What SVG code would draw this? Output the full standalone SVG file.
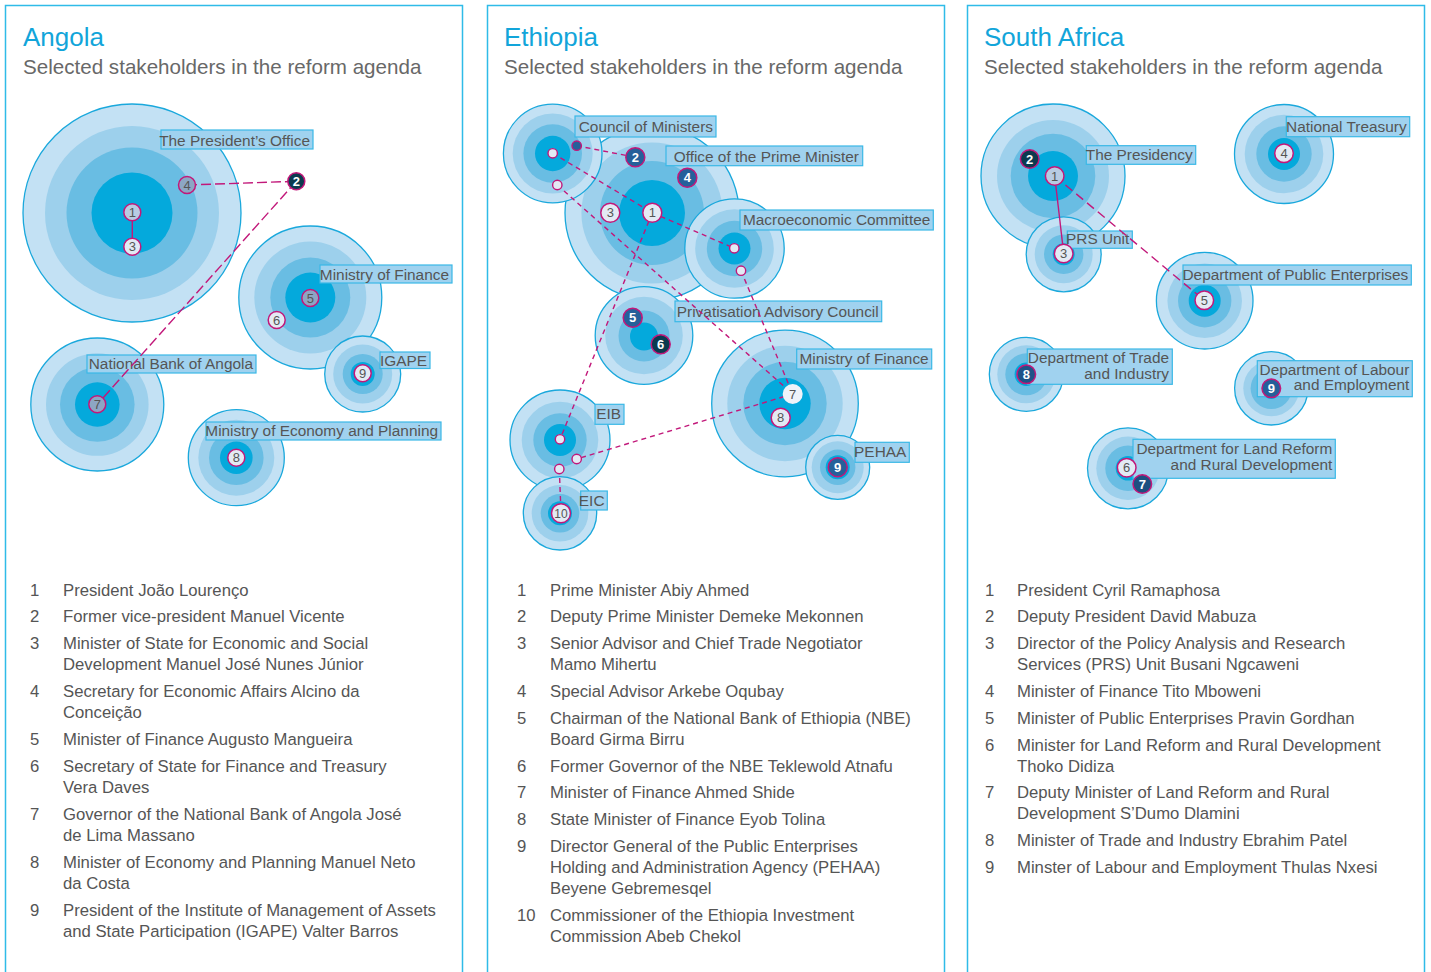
<svg xmlns="http://www.w3.org/2000/svg" width="1431" height="972" viewBox="0 0 1431 972">
<style>
text{font-family:"Liberation Sans",Arial,Helvetica,sans-serif}
.panel{fill:none;stroke:#2fbbe8;stroke-width:1.5}
.title{font-size:26px;fill:#12a5da}
.sub{font-size:20.6px;fill:#686868}
.r1{fill:#c3e1f4;stroke:#1aa8dc;stroke-width:1.3}
.r2{fill:#9dd0ec}
.r3{fill:#69bde3}
.r4{fill:#04a9dc}
.lb{fill:#a0d2ef;stroke:#3ab8e6;stroke-width:1.2}
.lt{font-size:15.4px;fill:#555;text-anchor:end}
.cn{stroke:#c2187a;stroke-width:1.4;fill:none}
.da{stroke-dasharray:10 4}
.de{stroke-dasharray:5 4}
.ds{stroke-dasharray:9 5}
.m{stroke:#c2187a;stroke-width:1.5}
.ml{fill:#e3eaf4}
.mg{fill:#b8cbe2}
.mm{fill:#8da6c4}
.mb{fill:#25609a}
.mn{fill:#0b3a4f}
.mw{fill:#eef3f9}
.dot{fill:#e3eaf4;stroke:#c2187a;stroke-width:1.4}
.mt{font-size:13px;fill:#555;text-anchor:middle}
.mtw{font-size:13px;fill:#fff;font-weight:bold;text-anchor:middle}
.li{font-size:16.7px;fill:#555}
</style>

<!-- panels -->
<g id="panels">
<path class="panel" d="M5.5,972 V5.5 H462.5 V972"/>
<path class="panel" d="M487.5,972 V5.5 H944.5 V972"/>
<path class="panel" d="M967.5,972 V5.5 H1424.5 V972"/>
</g>

<g id="titles">
<text class="title" x="23" y="46">Angola</text>
<text class="sub" x="23" y="74">Selected stakeholders in the reform agenda</text>
<text class="title" x="504" y="46">Ethiopia</text>
<text class="sub" x="504" y="74">Selected stakeholders in the reform agenda</text>
<text class="title" x="984" y="46">South Africa</text>
<text class="sub" x="984" y="74">Selected stakeholders in the reform agenda</text>
</g>

<!-- ===== Angola organisations ===== -->
<g id="ang-presidents-office">
<circle class="r1" cx="132" cy="213" r="109"/>
<circle class="r2" cx="132" cy="213" r="87"/>
<circle class="r3" cx="132" cy="213" r="65.5"/>
<circle class="r4" cx="132" cy="213" r="40.5"/>
<rect class="lb" x="161" y="130" width="152" height="19"/>
<text class="lt" x="310" y="145.5">The President’s Office</text>
</g>
<g id="ang-ministry-finance">
<circle class="r1" cx="310.3" cy="297.5" r="71.5"/>
<circle class="r2" cx="310.3" cy="297.5" r="56"/>
<circle class="r3" cx="310.3" cy="297.5" r="40"/>
<circle class="r4" cx="310.3" cy="297.5" r="25"/>
<rect class="lb" x="320" y="265" width="132" height="18"/>
<text class="lt" x="449" y="279.5">Ministry of Finance</text>
</g>
<g id="ang-igape">
<circle class="r1" cx="362.7" cy="374" r="38"/>
<circle class="r2" cx="362.7" cy="374" r="29.5"/>
<circle class="r3" cx="362.7" cy="374" r="20"/>
<circle class="r4" cx="362.7" cy="374" r="12"/>
<rect class="lb" x="380" y="352" width="50" height="16.5"/>
<text class="lt" x="427" y="366">IGAPE</text>
</g>
<g id="ang-national-bank">
<circle class="r1" cx="97.3" cy="404.5" r="66.5"/>
<circle class="r2" cx="97.3" cy="404.5" r="51.3"/>
<circle class="r3" cx="97.3" cy="404.5" r="37.3"/>
<circle class="r4" cx="97.3" cy="404.5" r="22.3"/>
<rect class="lb" x="87" y="355" width="169" height="18"/>
<text class="lt" x="253" y="369">National Bank of Angola</text>
</g>
<g id="ang-economy-planning">
<circle class="r1" cx="236.3" cy="457.7" r="48"/>
<circle class="r2" cx="236.3" cy="457.7" r="38"/>
<circle class="r3" cx="236.3" cy="457.7" r="27.3"/>
<circle class="r4" cx="236.3" cy="457.7" r="16.3"/>
<rect class="lb" x="206" y="422" width="235" height="18"/>
<text class="lt" x="438" y="436">Ministry of Economy and Planning</text>
</g>

<!-- ===== Ethiopia organisations ===== -->
<g id="eth-office-pm">
<circle class="r1" cx="652" cy="213" r="87"/>
<circle class="r2" cx="652" cy="213" r="70.6"/>
<circle class="r3" cx="652" cy="213" r="52"/>
<circle class="r4" cx="652" cy="213" r="33"/>
<rect class="lb" x="666" y="146" width="196.7" height="19.7"/>
<text class="lt" x="859" y="161.5">Office of the Prime Minister</text>
</g>
<g id="eth-council-ministers">
<circle class="r1" cx="552.7" cy="153.5" r="49.3"/>
<circle class="r2" cx="552.7" cy="153.5" r="40"/>
<circle class="r3" cx="552.7" cy="153.5" r="29.3"/>
<circle class="r4" cx="552.7" cy="153.5" r="17.7"/>
<rect class="lb" x="575" y="116" width="141" height="21"/>
<text class="lt" x="713" y="131.7">Council of Ministers</text>
</g>
<g id="eth-macro-committee">
<circle class="r1" cx="734.5" cy="248.5" r="49.7"/>
<circle class="r2" cx="734.5" cy="248.5" r="39.3"/>
<circle class="r3" cx="734.5" cy="248.5" r="27.7"/>
<circle class="r4" cx="734.5" cy="248.5" r="16"/>
<rect class="lb" x="740" y="210" width="193.3" height="20"/>
<text class="lt" x="930.3" y="225">Macroeconomic Committee</text>
</g>
<g id="eth-privatisation-council">
<circle class="r1" cx="644" cy="335.5" r="48.8"/>
<circle class="r2" cx="644" cy="335.5" r="38.8"/>
<circle class="r3" cx="644" cy="336" r="25.5"/>
<circle class="r4" cx="644" cy="336.5" r="14"/>
<rect class="lb" x="675" y="301" width="206.7" height="20.7"/>
<text class="lt" x="878.7" y="316.5">Privatisation Advisory Council</text>
</g>
<g id="eth-ministry-finance">
<circle class="r1" cx="785" cy="403.5" r="73.3"/>
<circle class="r2" cx="785" cy="403.5" r="57.7"/>
<circle class="r3" cx="785" cy="403.5" r="41.7"/>
<circle class="r4" cx="785" cy="403.5" r="25.7"/>
<rect class="lb" x="796.7" y="349" width="135" height="20"/>
<text class="lt" x="928.7" y="363.5">Ministry of Finance</text>
</g>
<g id="eth-pehaa">
<circle class="r1" cx="837.7" cy="467.3" r="32"/>
<circle class="r2" cx="837.7" cy="467.3" r="26"/>
<circle class="r3" cx="837.7" cy="467.3" r="17.7"/>
<circle class="r4" cx="837.7" cy="467.3" r="12"/>
<rect class="lb" x="855" y="442.3" width="54.3" height="20"/>
<text class="lt" x="906.3" y="457.3">PEHAA</text>
</g>
<g id="eth-eib">
<circle class="r1" cx="560" cy="440" r="50"/>
<circle class="r2" cx="560" cy="440" r="38.3"/>
<circle class="r3" cx="560" cy="440" r="26.7"/>
<circle class="r4" cx="560" cy="440" r="16"/>
<rect class="lb" x="595" y="404.3" width="29" height="20"/>
<text class="lt" x="621" y="419.3">EIB</text>
</g>
<g id="eth-eic">
<circle class="r1" cx="560" cy="513.3" r="36.7"/>
<circle class="r2" cx="560" cy="513.3" r="28.3"/>
<circle class="r3" cx="560" cy="513.3" r="19.3"/>
<circle class="r4" cx="560" cy="513.3" r="12"/>
<rect class="lb" x="580.7" y="491" width="26.6" height="19"/>
<text class="lt" x="604.5" y="505.7">EIC</text>
</g>

<!-- ===== South Africa organisations ===== -->
<g id="sa-presidency">
<circle class="r1" cx="1053" cy="176" r="72"/>
<circle class="r2" cx="1053" cy="176" r="56"/>
<circle class="r3" cx="1053" cy="176" r="42.3"/>
<circle class="r4" cx="1053" cy="176" r="25"/>
<rect class="lb" x="1086.3" y="145.7" width="109.4" height="18.6"/>
<text class="lt" x="1192.7" y="160">The Presidency</text>
</g>
<g id="sa-prs-unit">
<circle class="r1" cx="1063.7" cy="254.3" r="37.5"/>
<circle class="r2" cx="1063.7" cy="254.3" r="29"/>
<circle class="r3" cx="1063.7" cy="254.3" r="19.7"/>
<circle class="r4" cx="1063.7" cy="254.3" r="11"/>
<rect class="lb" x="1067.3" y="231" width="65" height="17.3"/>
<text class="lt" x="1129.3" y="244.3">PRS Unit</text>
</g>
<g id="sa-national-treasury">
<circle class="r1" cx="1284" cy="154" r="49.5"/>
<circle class="r2" cx="1284" cy="154" r="39.3"/>
<circle class="r3" cx="1284" cy="154" r="27.7"/>
<circle class="r4" cx="1284" cy="154" r="16"/>
<rect class="lb" x="1286.3" y="116.7" width="123.4" height="20"/>
<text class="lt" x="1406.7" y="131.5">National Treasury</text>
</g>
<g id="sa-public-enterprises">
<circle class="r1" cx="1204.7" cy="300.7" r="48.3"/>
<circle class="r2" cx="1204.7" cy="300.7" r="37.3"/>
<circle class="r3" cx="1204.7" cy="300.7" r="26.7"/>
<circle class="r4" cx="1204.7" cy="300.7" r="16"/>
<rect class="lb" x="1183" y="265" width="228.3" height="20"/>
<text class="lt" x="1408.3" y="279.8">Department of Public Enterprises</text>
</g>
<g id="sa-trade-industry">
<circle class="r1" cx="1026.3" cy="374.3" r="37"/>
<circle class="r2" cx="1026.3" cy="374.3" r="29"/>
<circle class="r3" cx="1026.3" cy="374.3" r="21"/>
<circle class="r4" cx="1026.3" cy="374.3" r="11.7"/>
<rect class="lb" x="1027.3" y="349" width="145" height="35.3"/>
<text class="lt" x="1169" y="363.3">Department of Trade</text>
<text class="lt" x="1169" y="379.3">and Industry</text>
</g>
<g id="sa-labour-employment">
<circle class="r1" cx="1271.3" cy="388.3" r="36.7"/>
<circle class="r2" cx="1271.3" cy="388.3" r="28"/>
<circle class="r3" cx="1271.3" cy="388.3" r="20.7"/>
<circle class="r4" cx="1271.3" cy="388.3" r="10.7"/>
<rect class="lb" x="1257.3" y="360.7" width="155" height="36"/>
<text class="lt" x="1409.3" y="374.5">Department of Labour</text>
<text class="lt" x="1409.3" y="390.3">and Employment</text>
</g>
<g id="sa-land-reform">
<circle class="r1" cx="1128" cy="468.3" r="40.5"/>
<circle class="r2" cx="1128" cy="468.3" r="31.7"/>
<circle class="r3" cx="1128" cy="468.3" r="22.7"/>
<circle class="r4" cx="1128" cy="468.3" r="12.3"/>
<rect class="lb" x="1133" y="439.3" width="202.3" height="39"/>
<text class="lt" x="1332.3" y="454">Department for Land Reform</text>
<text class="lt" x="1332.3" y="470">and Rural Development</text>
</g>

<!-- ===== connectors ===== -->
<g id="connectors">
<line class="cn" x1="132.3" y1="212.3" x2="132.3" y2="246.7"/>
<line class="cn da" x1="187" y1="185" x2="296.3" y2="181.3"/>
<line class="cn da" x1="296.3" y1="181.3" x2="97.3" y2="404.3"/>

<line class="cn de" x1="576.7" y1="145.7" x2="635.3" y2="157.3"/>
<line class="cn de" x1="552.7" y1="153.3" x2="652.3" y2="212.7"/>
<line class="cn de" x1="652.3" y1="212.7" x2="734.3" y2="248.3"/>
<line class="cn de" x1="557.3" y1="185" x2="792.7" y2="394"/>
<line class="cn de" x1="652.3" y1="212.7" x2="560" y2="439.3"/>
<line class="cn de" x1="741" y1="270.7" x2="792.7" y2="394"/>
<line class="cn de" x1="792.7" y1="394" x2="576.7" y2="459"/>
<line class="cn de" x1="559.3" y1="469" x2="561" y2="513.3"/>

<line class="cn" x1="1054.7" y1="176" x2="1063.7" y2="253.5"/>
<line class="cn ds" x1="1054.7" y1="176" x2="1204.3" y2="300.3"/>
</g>

<!-- ===== Angola people ===== -->
<g id="ang-p1"><circle class="m mg" cx="132.3" cy="212.3" r="8.5"/><text class="mt" x="132.3" y="216.9">1</text></g>
<g id="ang-p3"><circle class="m ml" cx="132.3" cy="246.7" r="8.5"/><text class="mt" x="132.3" y="251.3">3</text></g>
<g id="ang-p4"><circle class="m mm" cx="187" cy="185" r="8.5"/><text class="mt" x="187" y="189.6">4</text></g>
<g id="ang-p2"><circle class="m mn" cx="296.3" cy="181.3" r="8.5"/><text class="mtw" x="296.3" y="185.9">2</text></g>
<g id="ang-p5"><circle class="m mm" cx="310.3" cy="298" r="8.5"/><text class="mt" x="310.3" y="302.6">5</text></g>
<g id="ang-p6"><circle class="m ml" cx="276.7" cy="320" r="8.5"/><text class="mt" x="276.7" y="324.6">6</text></g>
<g id="ang-p7"><circle class="m mm" cx="97.3" cy="404.3" r="8.5"/><text class="mt" x="97.3" y="408.9">7</text></g>
<g id="ang-p8"><circle class="m ml" cx="236.3" cy="457.7" r="8.5"/><text class="mt" x="236.3" y="462.3">8</text></g>
<g id="ang-p9"><circle class="m ml" cx="362.7" cy="373.3" r="8.5"/><text class="mt" x="362.7" y="377.9">9</text></g>

<!-- ===== Ethiopia people ===== -->
<g id="eth-dots">
<circle class="dot" cx="552.7" cy="153.3" r="4.7"/>
<circle class="dot" cx="576.7" cy="145.7" r="4.7" style="fill:#25609a"/>
<circle class="dot" cx="557.3" cy="185" r="4.7"/>
<circle class="dot" cx="734.3" cy="248.3" r="4.7"/>
<circle class="dot" cx="741" cy="270.7" r="4.7"/>
<circle class="dot" cx="560" cy="439.3" r="4.7"/>
<circle class="dot" cx="576.7" cy="459" r="4.7"/>
<circle class="dot" cx="559.3" cy="469" r="4.7"/>
</g>
<g id="eth-p1"><circle class="m ml" cx="652.3" cy="212.7" r="9.5"/><text class="mt" x="652.3" y="217.3">1</text></g>
<g id="eth-p2"><circle class="m mb" cx="635.3" cy="157.3" r="9.5"/><text class="mtw" x="635.3" y="161.9">2</text></g>
<g id="eth-p3"><circle class="m ml" cx="610.3" cy="212.7" r="9.5"/><text class="mt" x="610.3" y="217.3">3</text></g>
<g id="eth-p4"><circle class="m mb" cx="687.3" cy="177.7" r="9.5"/><text class="mtw" x="687.3" y="182.3">4</text></g>
<g id="eth-p5"><circle class="m mb" cx="632.7" cy="317.7" r="9.5"/><text class="mtw" x="632.7" y="322.3">5</text></g>
<g id="eth-p6"><circle class="m mn" cx="660.7" cy="344.3" r="9.5"/><text class="mtw" x="660.7" y="348.9">6</text></g>
<g id="eth-p7"><circle class="mw" cx="792.7" cy="394" r="10"/><text class="mt" x="792.7" y="398.6">7</text></g>
<g id="eth-p8"><circle class="m ml" cx="780.7" cy="417.7" r="9.5"/><text class="mt" x="780.7" y="422.3">8</text></g>
<g id="eth-p9"><circle class="m mb" cx="837.7" cy="467.3" r="9.5"/><text class="mtw" x="837.7" y="471.9">9</text></g>
<g id="eth-p10"><circle class="m ml" cx="561" cy="513.3" r="9.5"/><text class="mt" x="561" y="517.8" style="font-size:12px">10</text></g>

<!-- ===== South Africa people ===== -->
<g id="sa-p1"><circle class="m mg" cx="1054.7" cy="176" r="9.3"/><text class="mt" x="1054.7" y="180.6">1</text></g>
<g id="sa-p2"><circle class="m mn" cx="1029.7" cy="159" r="9.3"/><text class="mtw" x="1029.7" y="163.6">2</text></g>
<g id="sa-p3"><circle class="m ml" cx="1063.7" cy="253.5" r="9.3"/><text class="mt" x="1063.7" y="258.1">3</text></g>
<g id="sa-p4"><circle class="m ml" cx="1284" cy="153.3" r="9.3"/><text class="mt" x="1284" y="157.9">4</text></g>
<g id="sa-p5"><circle class="m ml" cx="1204.3" cy="300.3" r="9.3"/><text class="mt" x="1204.3" y="304.9">5</text></g>
<g id="sa-p6"><circle class="m ml" cx="1126.7" cy="467.7" r="9.3"/><text class="mt" x="1126.7" y="472.3">6</text></g>
<g id="sa-p7"><circle class="m mb" cx="1142.3" cy="484" r="9.3" style="fill:#1d4f80"/><text class="mtw" x="1142.3" y="488.6">7</text></g>
<g id="sa-p8"><circle class="m mb" cx="1026.3" cy="374.3" r="9.3" style="fill:#1f5287"/><text class="mtw" x="1026.3" y="378.9">8</text></g>
<g id="sa-p9"><circle class="m mb" cx="1271.3" cy="388.3" r="9.3"/><text class="mtw" x="1271.3" y="392.9">9</text></g>

<!-- ===== lists ===== -->
<g id="ang-list">
<text class="li" x="30" y="595.5">1</text><text class="li" x="63" y="595.5">President João Lourenço</text>
<text class="li" x="30" y="622">2</text><text class="li" x="63" y="622">Former vice-president Manuel Vicente</text>
<text class="li" x="30" y="648.5">3</text><text class="li" x="63" y="648.5">Minister of State for Economic and Social</text>
<text class="li" x="63" y="670">Development Manuel José Nunes Júnior</text>
<text class="li" x="30" y="696.5">4</text><text class="li" x="63" y="696.5">Secretary for Economic Affairs Alcino da</text>
<text class="li" x="63" y="718">Conceição</text>
<text class="li" x="30" y="744.5">5</text><text class="li" x="63" y="744.5">Minister of Finance Augusto Mangueira</text>
<text class="li" x="30" y="771.5">6</text><text class="li" x="63" y="771.5">Secretary of State for Finance and Treasury</text>
<text class="li" x="63" y="792.5">Vera Daves</text>
<text class="li" x="30" y="819.5">7</text><text class="li" x="63" y="819.5">Governor of the National Bank of Angola José</text>
<text class="li" x="63" y="840.5">de Lima Massano</text>
<text class="li" x="30" y="867.5">8</text><text class="li" x="63" y="867.5">Minister of Economy and Planning Manuel Neto</text>
<text class="li" x="63" y="888.5">da Costa</text>
<text class="li" x="30" y="915.5">9</text><text class="li" x="63" y="915.5">President of the Institute of Management of Assets</text>
<text class="li" x="63" y="936.5">and State Participation (IGAPE) Valter Barros</text>
</g>

<g id="eth-list">
<text class="li" x="517" y="595.5">1</text><text class="li" x="550" y="595.5">Prime Minister Abiy Ahmed</text>
<text class="li" x="517" y="622">2</text><text class="li" x="550" y="622">Deputy Prime Minister Demeke Mekonnen</text>
<text class="li" x="517" y="648.5">3</text><text class="li" x="550" y="648.5">Senior Advisor and Chief Trade Negotiator</text>
<text class="li" x="550" y="670">Mamo Mihertu</text>
<text class="li" x="517" y="696.5">4</text><text class="li" x="550" y="696.5">Special Advisor Arkebe Oqubay</text>
<text class="li" x="517" y="723.5">5</text><text class="li" x="550" y="723.5">Chairman of the National Bank of Ethiopia (NBE)</text>
<text class="li" x="550" y="744.5">Board Girma Birru</text>
<text class="li" x="517" y="771.5">6</text><text class="li" x="550" y="771.5">Former Governor of the NBE Teklewold Atnafu</text>
<text class="li" x="517" y="798">7</text><text class="li" x="550" y="798">Minister of Finance Ahmed Shide</text>
<text class="li" x="517" y="824.5">8</text><text class="li" x="550" y="824.5">State Minister of Finance Eyob Tolina</text>
<text class="li" x="517" y="851.5">9</text><text class="li" x="550" y="851.5">Director General of the Public Enterprises</text>
<text class="li" x="550" y="872.5">Holding and Administration Agency (PEHAA)</text>
<text class="li" x="550" y="894">Beyene Gebremesqel</text>
<text class="li" x="517" y="920.5">10</text><text class="li" x="550" y="920.5">Commissioner of the Ethiopia Investment</text>
<text class="li" x="550" y="941.5">Commission Abeb Chekol</text>
</g>

<g id="sa-list">
<text class="li" x="985" y="595.5">1</text><text class="li" x="1017" y="595.5">President Cyril Ramaphosa</text>
<text class="li" x="985" y="622">2</text><text class="li" x="1017" y="622">Deputy President David Mabuza</text>
<text class="li" x="985" y="648.5">3</text><text class="li" x="1017" y="648.5">Director of the Policy Analysis and Research</text>
<text class="li" x="1017" y="670">Services (PRS) Unit Busani Ngcaweni</text>
<text class="li" x="985" y="696.5">4</text><text class="li" x="1017" y="696.5">Minister of Finance Tito Mboweni</text>
<text class="li" x="985" y="723.5">5</text><text class="li" x="1017" y="723.5">Minister of Public Enterprises Pravin Gordhan</text>
<text class="li" x="985" y="750.5">6</text><text class="li" x="1017" y="750.5">Minister for Land Reform and Rural Development</text>
<text class="li" x="1017" y="771.5">Thoko Didiza</text>
<text class="li" x="985" y="798">7</text><text class="li" x="1017" y="798">Deputy Minister of Land Reform and Rural</text>
<text class="li" x="1017" y="819">Development S’Dumo Dlamini</text>
<text class="li" x="985" y="846">8</text><text class="li" x="1017" y="846">Minister of Trade and Industry Ebrahim Patel</text>
<text class="li" x="985" y="872.5">9</text><text class="li" x="1017" y="872.5">Minster of Labour and Employment Thulas Nxesi</text>
</g>
</svg>
